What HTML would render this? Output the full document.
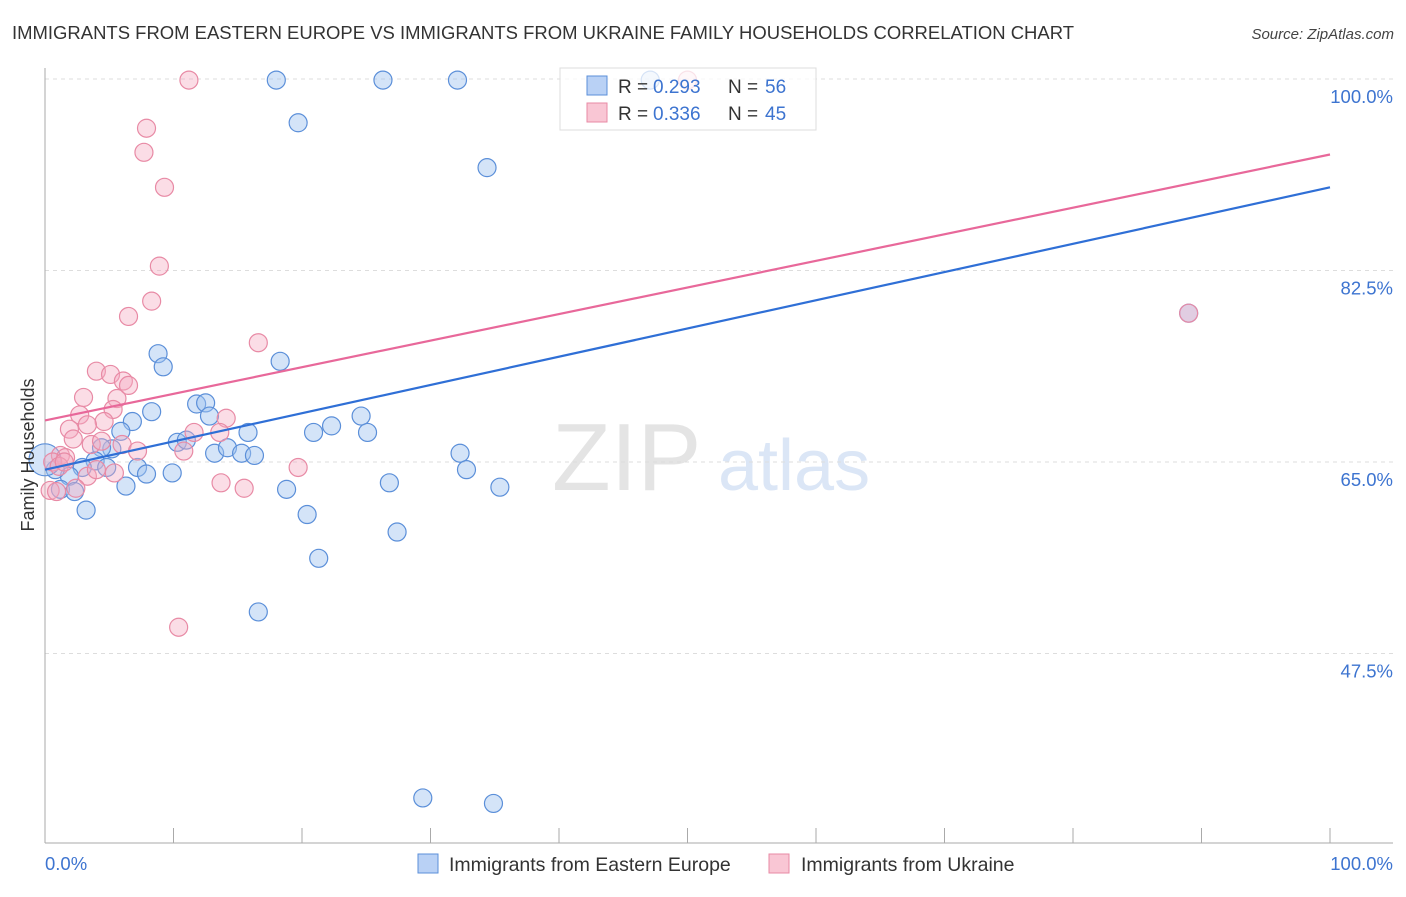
<!DOCTYPE html>
<html><head><meta charset="utf-8"><style>
body{margin:0;background:#fff;font-family:"Liberation Sans",sans-serif;}
svg text{font-family:"Liberation Sans",sans-serif;}
</style></head><body>
<svg id="chart" width="1406" height="892" xmlns="http://www.w3.org/2000/svg">
<text x="12" y="39" font-size="18" fill="#333" textLength="1062" lengthAdjust="spacingAndGlyphs">IMMIGRANTS FROM EASTERN EUROPE VS IMMIGRANTS FROM UKRAINE FAMILY HOUSEHOLDS CORRELATION CHART</text>
<text x="1394" y="39" font-size="15" fill="#444" text-anchor="end" font-style="italic">Source: ZipAtlas.com</text>
<g>
<text x="552" y="490" font-size="96" fill="#e4e4e4" font-family="Liberation Serif, serif">ZIP</text>
<text x="718" y="490" font-size="72" fill="#dbe6f6">atlas</text>
</g>
<g id="grid"></g>
<g id="axes"></g>
<g id="marks"></g>
<text transform="translate(34,455) rotate(-90)" font-size="18" fill="#333" text-anchor="middle">Family Households</text>
<g>
<rect x="560" y="68" width="256" height="62" fill="#fff" fill-opacity="0.75" stroke="#ddd"/>
<rect x="587" y="76" width="20" height="19" fill="#b9d1f5" stroke="#5b8fd9"/>
<text x="618" y="93" font-size="19" fill="#333">R =</text>
<text x="653" y="93" font-size="19" fill="#3d74d0">0.293</text>
<text x="728" y="93" font-size="19" fill="#333">N =</text>
<text x="765" y="93" font-size="19" fill="#3d74d0">56</text>
<rect x="587" y="103" width="20" height="19" fill="#f9c6d4" stroke="#e88aa5"/>
<text x="618" y="120" font-size="19" fill="#333">R =</text>
<text x="653" y="120" font-size="19" fill="#3d74d0">0.336</text>
<text x="728" y="120" font-size="19" fill="#333">N =</text>
<text x="765" y="120" font-size="19" fill="#3d74d0">45</text>
</g>
<g>
<rect x="418" y="854" width="20" height="19" fill="#b9d1f5" stroke="#5b8fd9"/>
<text x="449" y="871" font-size="19.5" fill="#333">Immigrants from Eastern Europe</text>
<rect x="769" y="854" width="20" height="19" fill="#f9c6d4" stroke="#e88aa5"/>
<text x="801" y="871" font-size="19.5" fill="#333">Immigrants from Ukraine</text>
</g>
</svg>
<script>
const yTicks=[100,82.5,65,47.5];
const yTickLabels=["100.0%","82.5%","65.0%","47.5%"];
const xTickLabels=["0.0%","100.0%"];
const blueX=[18.0,26.3,32.1,47.1,19.7,34.4,89.0,8.8,9.2,18.3,8.3,11.8,12.5,12.8,24.6,6.8,5.9,10.3,11.0,15.8,20.9,22.3,25.1,13.2,14.2,15.3,16.3,32.3,5.2,4.4,3.9,2.9,4.8,7.2,7.9,9.9,1.9,0.8,6.3,1.2,2.3,18.8,26.8,35.4,32.8,3.2,20.4,27.4,21.3,16.6,29.4,34.9,0.0];
const blueY=[99.9,99.9,99.9,99.9,96.0,91.9,78.6,74.9,73.7,74.2,69.6,70.3,70.4,69.2,69.2,68.7,67.8,66.8,67.0,67.7,67.7,68.3,67.7,65.8,66.3,65.8,65.6,65.8,66.2,66.3,65.1,64.5,64.5,64.5,63.9,64.0,63.7,64.3,62.8,62.5,62.3,62.5,63.1,62.7,64.3,60.6,60.2,58.6,56.2,51.3,34.3,33.8,65.2];
const pinkX=[11.2,50.0,7.9,7.7,9.3,8.9,8.3,6.5,16.6,4.0,5.1,6.1,6.5,3.0,5.6,5.3,2.7,14.1,4.6,3.3,1.9,11.6,13.6,2.2,3.6,4.4,6.0,7.2,10.8,1.2,1.6,0.6,1.1,5.4,3.3,4.0,19.7,13.7,15.5,0.4,0.9,2.4,10.4,89.0,1.5];
const pinkY=[99.9,99.9,95.5,93.3,90.1,82.9,79.7,78.3,75.9,73.3,73.0,72.4,72.0,70.9,70.8,69.8,69.3,69.0,68.7,68.4,68.0,67.7,67.7,67.1,66.6,66.9,66.6,66.0,66.0,65.6,65.4,65.0,64.6,64.0,63.7,64.3,64.5,63.1,62.6,62.4,62.3,62.6,49.9,78.6,65.0];
const blueTrend=[64.3,90.1];
const pinkTrend=[68.8,93.1];
const NS="http://www.w3.org/2000/svg";
const sx=v=>45+v*12.85;
const sy=v=>79+(100-v)*191.5/17.5;
function mk(tag,attrs,parent){const e=document.createElementNS(NS,tag);for(const k in attrs)e.setAttribute(k,attrs[k]);parent.appendChild(e);return e;}
const grid=document.getElementById('grid'),axes=document.getElementById('axes'),marks=document.getElementById('marks');
yTicks.forEach((t,i)=>{
 const g=mk('line',{x1:45,x2:1393,y1:sy(t),y2:sy(t),stroke:'#ddd','stroke-dasharray':'4,4'},grid);
 
 
 const l=mk('text',{x:1393,y:sy(t)+24,'font-size':18.5,fill:'#3d74d0','text-anchor':'end'},axes);
 l.textContent=yTickLabels[i];
 
 
});
const ya=mk('line',{x1:45,x2:45,y1:68,y2:843,stroke:'#aaa'},axes);


const xa=mk('line',{x1:45,x2:1393,y1:843,y2:843,stroke:'#aaa'},axes);


for(let i=0;i<=10;i++){
 const t=mk('line',{x1:sx(i*10),x2:sx(i*10),y1:828,y2:843,stroke:'#aaa'},axes);
 
 
}
[[0,'start'],[100,'end']].forEach((p,i)=>{
 const l=mk('text',{x:i?1393:45,y:870,'font-size':18.5,fill:'#3d74d0','text-anchor':p[1]},axes);
 l.textContent=xTickLabels[i];
 
 
});
function dots(X,Y,fill,stroke,name){
 X.forEach((x,i)=>{
  const big=(name==='blue-point'&&x===0);
  const c=mk('circle',{cx:sx(x),cy:sy(Y[i]),r:big?16:9,fill:fill,stroke:stroke,'stroke-width':1.2},marks);
  
  
 });
}
dots(blueX,blueY,'rgba(160,195,240,0.45)','#5b8fd9','blue-point');
dots(pinkX,pinkY,'rgba(245,170,192,0.4)','#e88aa5','pink-point');
const bl=mk('line',{x1:sx(0),y1:sy(blueTrend[0]),x2:sx(100),y2:sy(blueTrend[1]),stroke:'#2f6fd6','stroke-width':2.2},marks);


const pl=mk('line',{x1:sx(0),y1:sy(pinkTrend[0]),x2:sx(100),y2:sy(pinkTrend[1]),stroke:'#e8689a','stroke-width':2.2},marks);


</script>
</body></html>
